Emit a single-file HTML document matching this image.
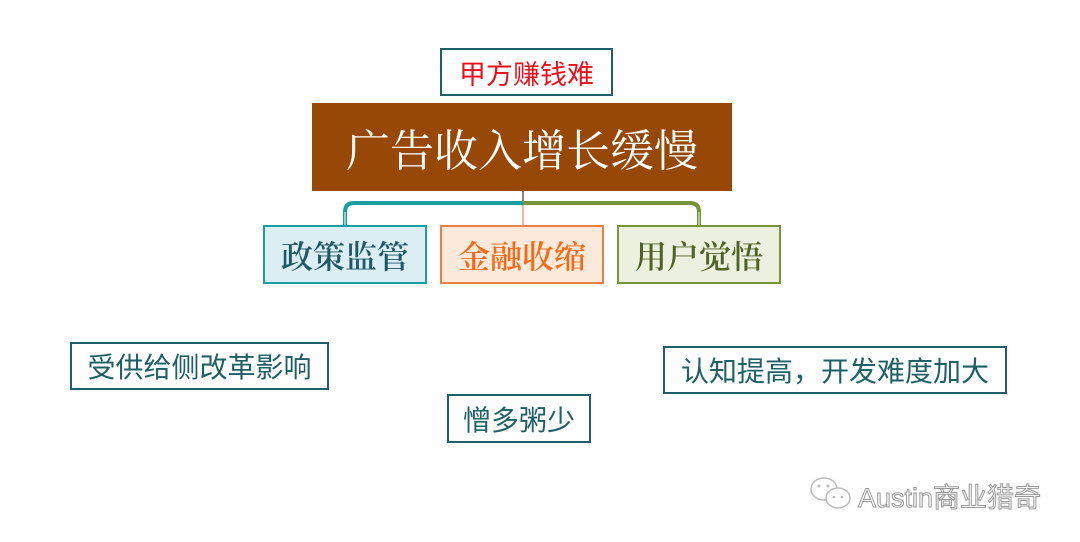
<!DOCTYPE html>
<html><head><meta charset="utf-8"><style>
html,body{margin:0;padding:0;background:#fff;}
body{width:1080px;height:542px;position:relative;overflow:hidden;font-family:"Liberation Sans","Noto Sans CJK SC",sans-serif;}
.b{position:absolute;box-sizing:border-box;display:flex;align-items:center;justify-content:center;white-space:nowrap;}
.t{border:2px solid #1f5f66;color:#1f5f66;font-size:28px;background:#fff;}
.s{font-family:"Liberation Serif","Noto Serif CJK SC",serif;font-size:32px;font-weight:600;border-width:2px;border-style:solid;}
</style></head><body>
<div class="b t" style="left:440px;top:48px;width:173px;height:48px;color:#e8101a;font-size:27px;">甲方赚钱难</div>
<div class="b" style="left:312px;top:103px;width:420px;height:88px;background:#974806;color:#fff;font-family:'Liberation Serif','Noto Serif CJK SC',serif;font-size:44px;">广告收入增长缓慢</div>
<svg style="position:absolute;left:0;top:0" width="1080" height="542">
<line x1="523" y1="191" x2="523" y2="226" stroke="#e9a080" stroke-width="1.5"/>
<line x1="523" y1="191" x2="523" y2="205" stroke="#333" stroke-width="1"/>
<path d="M345 226 V212 Q345 203 354 203 H523" fill="none" stroke="#1b9ea0" stroke-width="4"/>
<path d="M345 226 V212" fill="none" stroke="#8fcfd0" stroke-width="2"/>
<path d="M523 203 H690 Q699 203 699 212 V226" fill="none" stroke="#77933c" stroke-width="4"/>
<path d="M699 212 V226" fill="none" stroke="#b5c98f" stroke-width="2"/>
</svg>
<div class="b s" style="left:263px;top:225px;width:164px;height:59px;background:#dbeef3;border-color:#1b9ea0;color:#215868;">政策监管</div>
<div class="b s" style="left:440px;top:225px;width:164px;height:59px;background:#fde9d9;border-color:#e9804a;color:#f26b1d;">金融收缩</div>
<div class="b s" style="left:617px;top:225px;width:164px;height:59px;background:#ebf1de;border-color:#77933c;color:#4f6228;">用户觉悟</div>
<div class="b t" style="left:70px;top:342px;width:259px;height:48px;">受供给侧改革影响</div>
<div class="b t" style="left:663px;top:346px;width:344px;height:48px;">认知提高，开发难度加大</div>
<div class="b t" style="left:447px;top:394px;width:144px;height:49px;">憎多粥少</div>
<svg style="position:absolute;left:808px;top:475px" width="50" height="40">
<ellipse cx="16" cy="14" rx="13" ry="11" fill="#fff" stroke="#bbb" stroke-width="1.5"/>
<ellipse cx="30" cy="23" rx="12" ry="10" fill="#fff" stroke="#bbb" stroke-width="1.5"/>
<circle cx="11" cy="11" r="1.5" fill="#bbb"/><circle cx="20" cy="11" r="1.5" fill="#bbb"/>
<circle cx="26" cy="22" r="1.3" fill="#bbb"/><circle cx="34" cy="22" r="1.3" fill="#bbb"/>
</svg>
<div style="position:absolute;left:858px;top:476px;font-size:27px;color:#fff;-webkit-text-stroke:1px #999;white-space:nowrap;">Austin商业猎奇</div>
</body></html>
